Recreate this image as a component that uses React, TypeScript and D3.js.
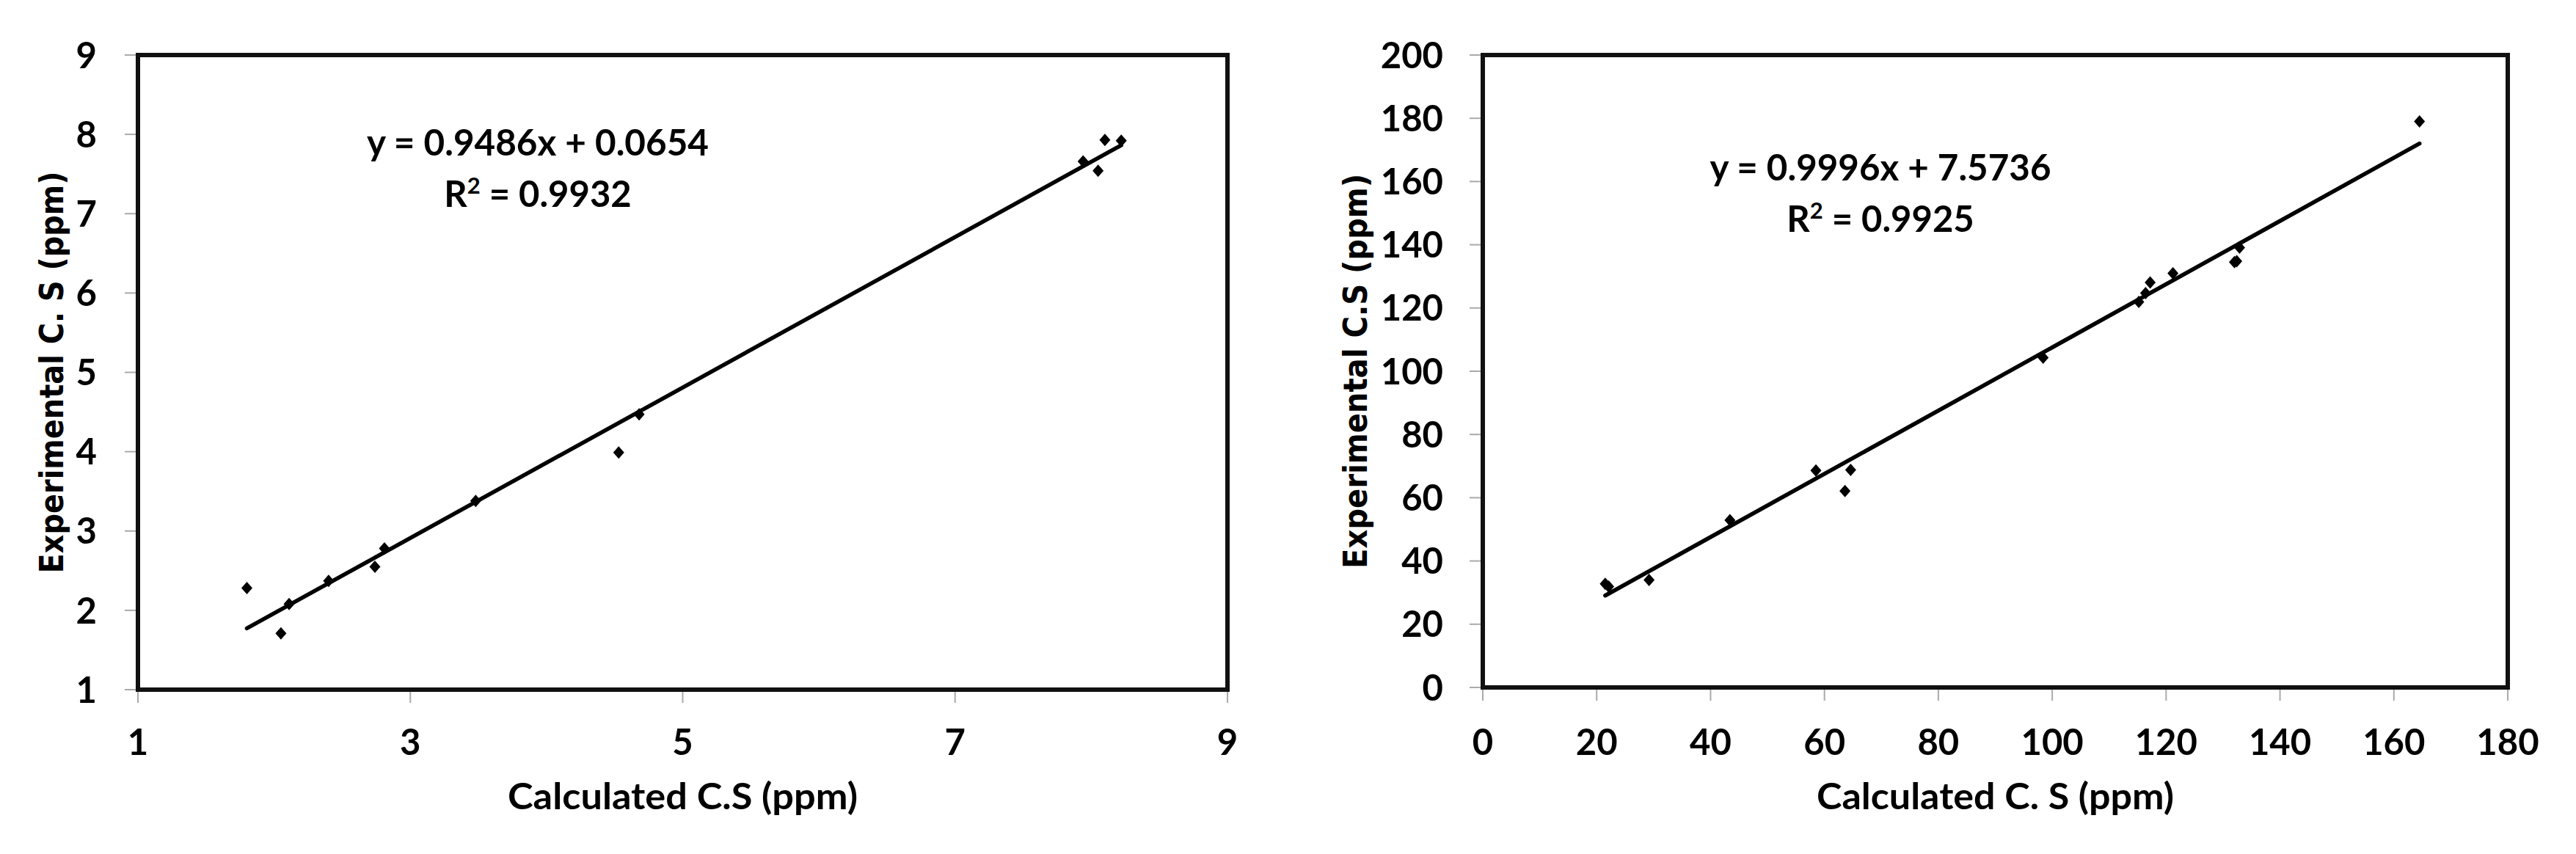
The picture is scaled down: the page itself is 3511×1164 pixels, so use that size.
import React from 'react';
import { scaleLinear, line } from 'd3';

// left panel: calculated vs experimental C.S (ppm)
const leftCalc = [1.8, 2.05, 2.11, 2.4, 2.74, 2.81, 3.48, 4.53, 4.68, 7.94, 8.05, 8.1, 8.22];
const leftExp = [2.28, 1.71, 2.08, 2.37, 2.55, 2.78, 3.38, 3.99, 4.47, 7.66, 7.54, 7.93, 7.92];
const leftXTicks = [1, 3, 5, 7, 9];
const leftYTicks = [1, 2, 3, 4, 5, 6, 7, 8, 9];
const leftSlope = 0.9486;
const leftIntercept = 0.0654;
const leftEq = 'y = 0.9486x + 0.0654';
const leftR2 = '0.9932';

// right panel
const rightCalc = [21.5, 22.1, 29.2, 43.4, 58.5, 63.6, 64.6, 98.4, 115.2, 116.4, 117.2, 121.2, 132.0, 132.4, 132.9, 164.5];
const rightExp = [32.8, 31.9, 34.0, 52.9, 68.6, 62.1, 68.8, 104.3, 121.9, 124.7, 128.1, 131.0, 134.5, 134.8, 139.1, 179.0];
const rightXTicks = [0, 20, 40, 60, 80, 100, 120, 140, 160, 180];
const rightYTicks = [0, 20, 40, 60, 80, 100, 120, 140, 160, 180, 200];
const rightSlope = 0.9996;
const rightIntercept = 7.5736;
const rightEq = 'y = 0.9996x + 7.5736';
const rightR2 = '0.9925';

const NARROW = "Lato, 'Open Sans', sans-serif";
const WIDE = "'DejaVu Sans', Verdana, sans-serif";

const diamond = 'M0,-8.5L7.5,0L0,8.5L-7.5,0Z';

type PanelProps = {
  x0: number; x1: number; y0: number; y1: number;
  calc: number[]; exp: number[];
  xTicks: number[]; yTicks: number[];
  slope: number; intercept: number;
  eq: string; r2: string;
  eqX: number; eqY: number; eqW: number;
  xTitle: string; xTitleW: number;
  yTitle: string; yTitleX: number; yTitleW: number;
  yLabelGap: number;
};

const Panel = (p: PanelProps) => {
  const xScale = scaleLinear()
    .domain([p.xTicks[0], p.xTicks[p.xTicks.length - 1]])
    .range([p.x0, p.x1]);
  const yScale = scaleLinear()
    .domain([p.yTicks[0], p.yTicks[p.yTicks.length - 1]])
    .range([p.y1, p.y0]);

  const xmin = Math.min(...p.calc);
  const xmax = Math.max(...p.calc);
  const fit = [xmin, xmax].map((x) => [x, p.slope * x + p.intercept]);
  const fitPath = line<number[]>()
    .x((d) => xScale(d[0]))
    .y((d) => yScale(d[1]))(fit);

  const midY = (p.y0 + p.y1) / 2;
  const midX = (p.x0 + p.x1) / 2;

  return (
    <g>
      {/* ticks */}
      {p.yTicks.map((t) => (
        <g key={'y' + t}>
          <line x1={p.x0 - 18} x2={p.x0} y1={yScale(t)} y2={yScale(t)} stroke="#aaa" strokeWidth={2} />
          <text
            x={p.x0 - p.yLabelGap}
            y={yScale(t)}
            dy="0.36em"
            textAnchor="end"
            fontFamily={NARROW}
            fontWeight="bold"
            fontSize={49}
          >
            {t}
          </text>
        </g>
      ))}
      {p.xTicks.map((t) => (
        <g key={'x' + t}>
          <line x1={xScale(t)} x2={xScale(t)} y1={p.y1} y2={p.y1 + 18} stroke="#aaa" strokeWidth={2} />
          <text x={xScale(t)} y={1029} textAnchor="middle" fontFamily={NARROW} fontWeight="bold" fontSize={49}>
            {t}
          </text>
        </g>
      ))}

      {/* plot frame */}
      <rect x={p.x0} y={p.y0} width={p.x1 - p.x0} height={p.y1 - p.y0} fill="none" stroke="#111" strokeWidth={6} />

      {/* trendline */}
      <path d={fitPath || ''} fill="none" stroke="#000" strokeWidth={5.5} strokeLinecap="round" />

      {/* points */}
      {p.calc.map((c, i) => (
        <path key={i} d={diamond} transform={`translate(${xScale(c)},${yScale(p.exp[i])})`} fill="#000" />
      ))}

      {/* equation */}
      <text x={p.eqX} y={p.eqY} textAnchor="middle" fontFamily={NARROW} fontWeight="bold" fontSize={49} textLength={p.eqW} lengthAdjust="spacingAndGlyphs">
        {p.eq}
      </text>
      <text x={p.eqX} y={p.eqY + 70} textAnchor="middle" fontFamily={NARROW} fontWeight="bold" fontSize={49}>
        R<tspan fontSize={31} dy={-18}>2</tspan>
        <tspan dy={18}>{' = ' + p.r2}</tspan>
      </text>

      {/* axis titles */}
      <text x={midX} y={1103} textAnchor="middle" fontFamily={NARROW} fontWeight="bold" fontSize={49} textLength={p.xTitleW} lengthAdjust="spacingAndGlyphs">
        {p.xTitle}
      </text>
      <text
        transform={`translate(${p.yTitleX},${midY}) rotate(-90)`}
        dy="0.36em"
        textAnchor="middle"
        fontFamily={WIDE}
        fontWeight="bold"
        fontSize={44}
        textLength={p.yTitleW}
        lengthAdjust="spacingAndGlyphs"
      >
        {p.yTitle}
      </text>
    </g>
  );
};

const App = () => {
  return (
    <svg
      width={3511}
      height={1164}
      style={{ position: 'absolute', left: 0, top: 0, background: '#fff' }}
    >
      <rect width={3511} height={1164} fill="#fff" />
      <Panel
        x0={188} x1={1673} y0={75} y1={940}
        calc={leftCalc} exp={leftExp}
        xTicks={leftXTicks} yTicks={leftYTicks}
        slope={leftSlope} intercept={leftIntercept}
        eq={leftEq} r2={leftR2}
        eqX={733} eqY={212} eqW={466}
        xTitle="Calculated C.S (ppm)" xTitleW={477}
        yTitle="Experimental C. S (ppm)" yTitleX={70} yTitleW={548}
        yLabelGap={56}
      />
      <Panel
        x0={2021} x1={3418} y0={75} y1={937}
        calc={rightCalc} exp={rightExp}
        xTicks={rightXTicks} yTicks={rightYTicks}
        slope={rightSlope} intercept={rightIntercept}
        eq={rightEq} r2={rightR2}
        eqX={2563} eqY={246} eqW={465}
        xTitle="Calculated C. S (ppm)" xTitleW={487}
        yTitle="Experimental C.S (ppm)" yTitleX={1847} yTitleW={538}
        yLabelGap={54}
      />
    </svg>
  );
};

export default App;
